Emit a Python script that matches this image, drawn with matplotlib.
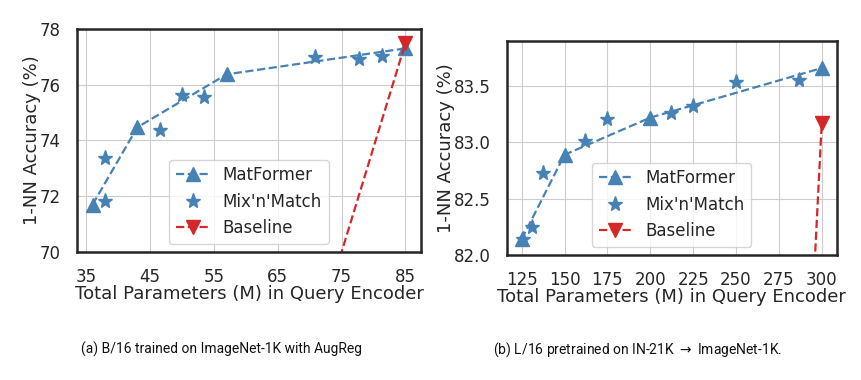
import matplotlib
matplotlib.use('Agg')
import matplotlib.pyplot as plt
import seaborn as sns

sns.set_style('whitegrid')
plt.rcParams['font.family'] = ['DejaVu Sans']

# (a) B/16 on ImageNet-1K
a_mat_x = [36, 43, 57, 85]
a_mat_y = [71.7, 74.47, 76.37, 77.3]
a_mix_x = [38.0, 38.0, 46.5, 50.0, 53.5, 70.8, 77.8, 81.3]
a_mix_y = [73.38, 71.84, 74.39, 75.64, 75.55, 76.99, 76.93, 77.02]
a_base_x = [57, 85]
a_base_y = [56.5, 77.49]

# (b) L/16 IN-21K -> ImageNet-1K
b_mat_x = [125, 150, 200, 300]
b_mat_y = [82.14, 82.89, 83.22, 83.66]
b_mix_x = [126, 131, 137.5, 162, 175, 212, 225, 250, 287]
b_mix_y = [82.14, 82.25, 82.73, 83.01, 83.21, 83.26, 83.32, 83.54, 83.55]
b_base_x = [200, 300]
b_base_y = [53.0, 83.17]

blue = '#4682b4'
red = '#d62728'

fig = plt.figure(figsize=(8.61, 3.8), dpi=100)
ax1 = fig.add_axes([0.0894, 0.337, 0.3996, 0.587])
ax2 = fig.add_axes([0.5885, 0.329, 0.3833, 0.563])


def draw(ax, mx, my, sx, sy, bx, by):
    ax.plot(mx, my, '--^', color=blue, markersize=10, linewidth=1.6, label='MatFormer')
    ax.plot(sx, sy, '*', color=blue, markersize=11, linestyle='none', label="Mix'n'Match")
    ax.plot(bx, by, '--v', color=red, markersize=10, linewidth=1.6, label='Baseline')
    for s in ax.spines.values():
        s.set_color('#262626')
        s.set_linewidth(1.8)
    ax.tick_params(axis='x', labelsize=12, pad=8)
    ax.tick_params(axis='y', labelsize=12, pad=8)
    ax.set_xlabel('Total Parameters (M) in Query Encoder', fontsize=13, labelpad=-1)
    ax.set_ylabel('1-NN Accuracy (%)', fontsize=13, labelpad=-1)
    leg = ax.legend(loc='lower center', fontsize=12, frameon=True)
    leg.get_frame().set_edgecolor('#cccccc')


draw(ax1, a_mat_x, a_mat_y, a_mix_x, a_mix_y, a_base_x, a_base_y)
ax1.set_xlim(33.55, 87.45)
ax1.set_ylim(70, 78)
ax1.set_xticks([35, 45, 55, 65, 75, 85])
ax1.set_yticks([70, 72, 74, 76, 78])

draw(ax2, b_mat_x, b_mat_y, b_mix_x, b_mix_y, b_base_x, b_base_y)
ax2.set_xlim(116.25, 308.75)
ax2.set_ylim(82.0, 83.9)
ax2.set_xticks([125, 150, 175, 200, 225, 250, 275, 300])
ax2.set_yticks([82.0, 82.5, 83.0, 83.5])
ax2.set_yticklabels(['82.0', '82.5', '83.0', '83.5'])

cap_font = ['Roboto', 'DejaVu Sans']
fig.text(0.0937, 0.081, '(a) B/16 trained on ImageNet-1K with AugReg', fontsize=10,
         family=cap_font, va='center', ha='left', color='#111111')
fig.text(0.5726, 0.081, '(b) L/16 pretrained on IN-21K $\\rightarrow$ ImageNet-1K.', fontsize=10,
         family=cap_font, va='center', ha='left', color='#111111')

fig.savefig('out.png', dpi=100)
